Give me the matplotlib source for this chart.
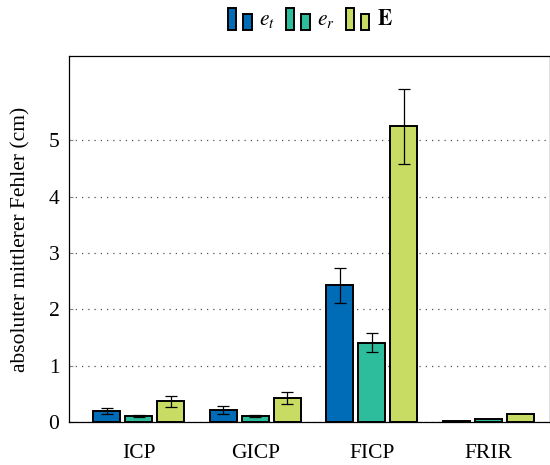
import matplotlib.pyplot as plt
from matplotlib.patches import Rectangle
from matplotlib.legend_handler import HandlerBase
import numpy as np

plt.rcParams['font.family'] = ['Liberation Serif', 'DejaVu Serif']
plt.rcParams['mathtext.fontset'] = 'stix'

categories = ["ICP", "GICP", "FICP", "FRIR"]
et = [0.19, 0.21, 2.43, 0.02]
et_err = [0.05, 0.07, 0.31, 0.0]
er = [0.10, 0.11, 1.41, 0.06]
er_err = [0.02, 0.02, 0.17, 0.0]
E = [0.37, 0.43, 5.25, 0.15]
E_err = [0.10, 0.11, 0.67, 0.0]

series = [
    (r"$e_t$", et, et_err, "#006bb6"),
    (r"$e_r$", er, er_err, "#2ebd9c"),
    (r"$\mathbf{E}$", E, E_err, "#c8dc64"),
]


class TwoBarHandler(HandlerBase):
    def create_artists(self, legend, orig_handle, xdescent, ydescent,
                       width, height, fontsize, trans):
        fc = orig_handle.get_facecolor()
        w = width * 0.34
        y0 = -ydescent - 0.3 * height
        r1 = Rectangle((-xdescent, y0), w, height * 1.4,
                       facecolor=fc, edgecolor="black", linewidth=1.4, transform=trans)
        r2 = Rectangle((-xdescent + width * 0.62, y0), w, height * 1.05,
                       facecolor=fc, edgecolor="black", linewidth=1.4, transform=trans)
        return [r1, r2]


fig = plt.figure(figsize=(5.5, 4.65), dpi=100)
ax = fig.add_axes([0.1255, 0.0925, 0.8745, 0.787])

x = np.arange(len(categories))
offset = 0.275
width = 0.232
handles = []
for i, (label, vals, errs, color) in enumerate(series):
    pos = x + (i - 1) * offset
    bars = ax.bar(pos, vals, width, color=color, edgecolor="black", linewidth=1.4,
                  label=label, zorder=3)
    handles.append(bars[0])
    mask = np.array(errs) > 0
    ax.errorbar(pos[mask], np.array(vals)[mask], yerr=np.array(errs)[mask], fmt="none",
                ecolor="black", elinewidth=0.9, capsize=4, capthick=0.9, zorder=4)

ax.set_xlim(-0.6, 3.53)
ax.set_ylim(0, 6.5)
ax.set_yticks(range(6))
ax.set_xticks(x)
ax.set_xticklabels(categories)
ax.tick_params(axis="x", length=0, labelsize=15.5, pad=16)
ax.tick_params(axis="y", direction="in", length=3, color="#888888", labelsize=15.5, pad=7)
ax.yaxis.grid(True, linestyle=(0, (1, 4)), color="#555555", linewidth=0.9, zorder=0)
ax.set_ylabel("absoluter mittlerer Fehler (cm)", fontsize=15.5)
ax.yaxis.set_label_coords(-0.08, 0.5)
for s in ax.spines.values():
    s.set_linewidth(0.9)

leg = fig.legend(handles, [s[0] for s in series], loc="center",
                 bbox_to_anchor=(0.564, 0.957), ncol=3, frameon=False,
                 handler_map={h: TwoBarHandler() for h in handles},
                 handlelength=1.15, handletextpad=0.3, columnspacing=0.5, fontsize=15.5)

fig.savefig("out.png", dpi=100)
